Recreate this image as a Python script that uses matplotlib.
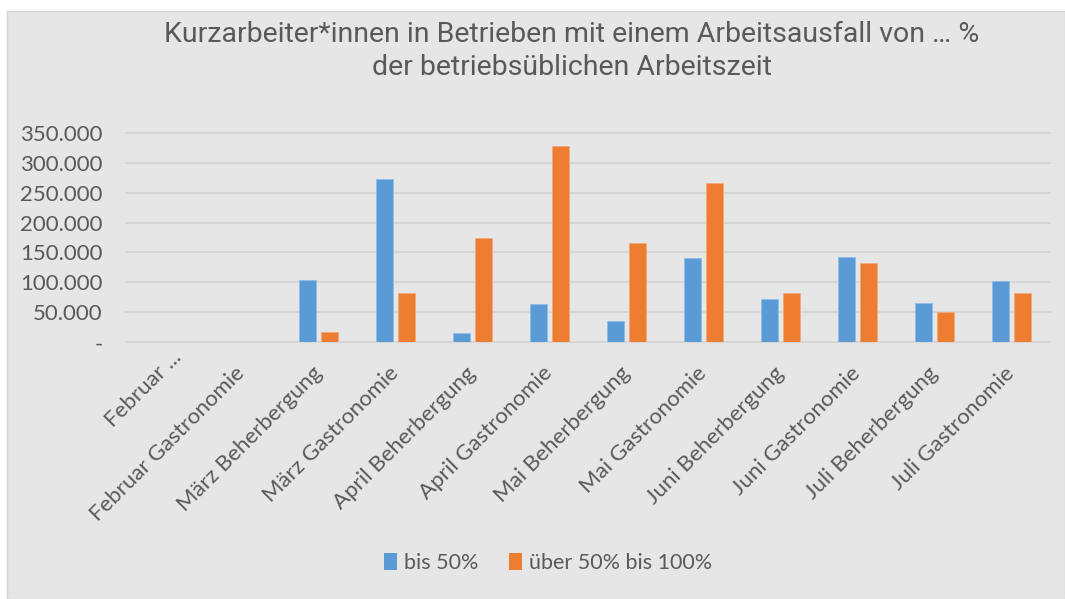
"""
Kurzarbeit chart: workers by share of lost working time, per month and sector.
"""

import matplotlib.pyplot as plt
import numpy as np
from matplotlib.patches import Patch, Rectangle
from matplotlib.transforms import ScaledTranslation

plt.rcParams["font.family"] = ["Lato", "DejaVu Sans"]

CATEGORIES = [
    "Februar ...",
    "Februar Gastronomie",
    "März Beherbergung",
    "März Gastronomie",
    "April Beherbergung",
    "April Gastronomie",
    "Mai Beherbergung",
    "Mai Gastronomie",
    "Juni Beherbergung",
    "Juni Gastronomie",
    "Juli Beherbergung",
    "Juli Gastronomie",
]
BIS_50 = [0, 0, 103500, 272200, 15000, 64000, 35000, 140300, 71800, 142400, 66100, 102400]
UEBER_50 = [0, 0, 17200, 82800, 174200, 327300, 165800, 266000, 82300, 133000, 50100, 81800]
SERIES_NAMES = ["bis 50%", "über 50% bis 100%"]
Y_TICKS = [0, 50000, 100000, 150000, 200000, 250000, 300000, 350000]

BLUE = "#5B9BD5"
ORANGE = "#ED7D31"
BG = "#E6E6E6"
GRID = "#D6D6D6"
TEXT = "#595959"


def fmt_de(v: float) -> str:
    if v == 0:
        return "-"
    return f"{int(v):,}".replace(",", ".")


W, H = 1065, 599
fig = plt.figure(figsize=(W / 100, H / 100), dpi=100, facecolor="white")

# gray chart area (white strip left and top like the screenshot)
fig.patches.append(
    Rectangle((7 / W, 0), 1 - 7 / W, 1 - 11 / H, transform=fig.transFigure,
              facecolor=BG, edgecolor="#D3D3D3", linewidth=1.0, zorder=-10)
)

ax = fig.add_axes((126 / W, 1 - 342.3 / H, 924 / W, 209.6 / H))
ax.set_facecolor("none")

x = np.arange(len(CATEGORIES))
bw = 0.22
off = 0.143
ax.bar(x - off, BIS_50, width=bw, color=BLUE, edgecolor="#8FBCE6",
       linewidth=0.6, zorder=3, label=SERIES_NAMES[0])
ax.bar(x + off, UEBER_50, width=bw, color=ORANGE, edgecolor="#F2A77A",
       linewidth=0.6, zorder=3, label=SERIES_NAMES[1])

ax.set_xlim(-0.5, len(CATEGORIES) - 0.5)
ax.set_ylim(0, 350000)
ax.set_yticks(Y_TICKS)
ax.set_yticklabels([fmt_de(v) for v in Y_TICKS])
ax.yaxis.grid(True, color=GRID, linewidth=1.5, zorder=0, clip_on=False)
ax.set_axisbelow(True)
for side in ax.spines.values():
    side.set_visible(False)

ax.set_xticks(x)
ax.set_xticklabels(CATEGORIES, rotation=45, ha="right", va="center",
                   rotation_mode="anchor")
ax.tick_params(axis="x", length=0, pad=20, labelsize=16, labelcolor=TEXT)
ax.tick_params(axis="y", length=0, pad=17, labelsize=16, labelcolor=TEXT)

# the truncated first label sits a bit further up-right in the original
first = ax.get_xticklabels()[0]
first.set_transform(first.get_transform()
                    + ScaledTranslation(14 / 100, 16 / 100, fig.dpi_scale_trans))

fig.text(572 / W, 1 - 51 / H,
         "Kurzarbeiter*innen in Betrieben mit einem Arbeitsausfall von … %\n"
         "der betriebsüblichen Arbeitszeit",
         ha="center", va="center", fontsize=20.5, color=TEXT,
         family=["Roboto", "DejaVu Sans"], linespacing=1.3)

handles = [Patch(facecolor=BLUE, edgecolor="none"),
           Patch(facecolor=ORANGE, edgecolor="none")]
fig.legend(handles, SERIES_NAMES, loc="center", bbox_to_anchor=(548 / W, 1 - 563 / H),
           ncol=2, frameon=False, fontsize=15.5, labelcolor=TEXT,
           handlelength=0.6, handleheight=0.85, handletextpad=0.35,
           columnspacing=1.4)

fig.savefig("out.png", dpi=100, facecolor="white")
